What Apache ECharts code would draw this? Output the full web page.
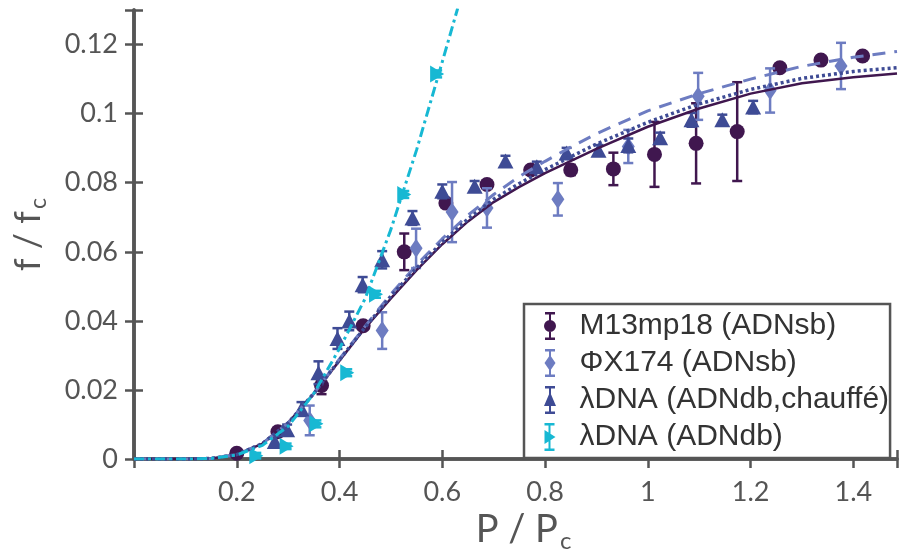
<!DOCTYPE html>
<html><head><meta charset="utf-8">
<script src="https://cdn.jsdelivr.net/npm/echarts@6/dist/echarts.min.js"></script>
<style>html,body{margin:0;padding:0;background:#fff}#c{width:900px;height:558px}</style>
</head><body><div id="c"></div>
<script>
const xTickLabels = ['0.2','0.4','0.6','0.8','1','1.2','1.4'];
const yTickLabels = ['0','0.02','0.04','0.06','0.08','0.1','0.12'];
const legendNames = ['M13mp18 (ADNsb)','\u03A6X174 (ADNsb)','\u03BBDNA (ADNdb,chauff\u00E9)','\u03BBDNA (ADNdb)'];
const colors = ['#40174f','#6d7cc1','#3e4b95','#17b8d3'];

// measured points: [P/Pc, f/fc, error]
const m13Data = [[0.2,0.0017,0.0008],[0.28,0.0079,0.001],[0.365,0.0213,0.0025],[0.446,0.0386,0.001],[0.526,0.060,0.0053],[0.607,0.0741,0.001],[0.687,0.0795,0.001],[0.772,0.0837,0.001],[0.85,0.0837,0.0015],[0.933,0.084,0.0047],[1.013,0.0882,0.0094],[1.094,0.0914,0.0116],[1.174,0.0948,0.0143],[1.257,0.1133,0],[1.337,0.1155,0],[1.418,0.1167,0]];
const phiData = [[0.342,0.0112,0.0043],[0.483,0.0372,0.0053],[0.549,0.061,0.0057],[0.619,0.0715,0.0087],[0.687,0.0727,0.0057],[0.825,0.0752,0.0047],[0.962,0.0905,0.0048],[1.098,0.105,0.0068],[1.238,0.1067,0.0064],[1.376,0.1138,0.0067]];
const lamHData = [[0.274,0.0051,0.0015],[0.298,0.0085,0.0015],[0.326,0.0145,0.002],[0.359,0.025,0.0033],[0.396,0.0349,0.003],[0.419,0.040,0.0027],[0.445,0.0505,0.0022],[0.483,0.0577,0.0025],[0.542,0.0698,0.002],[0.6,0.0775,0.002],[0.663,0.079,0.0015],[0.723,0.0863,0.0015],[0.784,0.0846,0.0015],[0.842,0.0886,0.0015],[0.904,0.0894,0.0015],[0.962,0.0908,0.002],[1.024,0.093,0.0015],[1.085,0.0982,0.002],[1.145,0.0982,0.0015],[1.205,0.1019,0.0018]];
const lamData = [[0.238,0.001,0.0008],[0.297,0.0037,0.0008],[0.355,0.0102,0.001],[0.415,0.025,0.001],[0.471,0.0477,0.001],[0.526,0.0766,0.001],[0.59,0.1115,0.001]];

// fitted curves
const fitM13 = [[0,0],[0.1,0],[0.15,0.0002],[0.2,0.0013],[0.25,0.0045],[0.3,0.0105],[0.35,0.019],[0.4,0.0285],[0.45,0.038],[0.5,0.0465],[0.55,0.0547],[0.6,0.0622],[0.65,0.0688],[0.7,0.0744],[0.75,0.0788],[0.8,0.0828],[0.9,0.0898],[1.0,0.0962],[1.1,0.1015],[1.2,0.1058],[1.3,0.1088],[1.4,0.1105],[1.485,0.1116]];
const fitPhi = [[0,0],[0.1,0],[0.15,0.0002],[0.2,0.0013],[0.25,0.0045],[0.3,0.0105],[0.35,0.019],[0.4,0.029],[0.45,0.0385],[0.5,0.0478],[0.55,0.0562],[0.6,0.0638],[0.65,0.0706],[0.7,0.0766],[0.75,0.0818],[0.8,0.0862],[0.85,0.0903],[0.9,0.0942],[1.0,0.1008],[1.1,0.1058],[1.2,0.11],[1.3,0.1137],[1.4,0.1163],[1.485,0.118]];
const fitLamH = [[0,0],[0.1,0],[0.15,0.0002],[0.2,0.0013],[0.25,0.0045],[0.3,0.0105],[0.35,0.019],[0.4,0.0287],[0.45,0.0382],[0.5,0.0472],[0.55,0.0553],[0.6,0.0628],[0.65,0.0695],[0.7,0.0752],[0.75,0.0798],[0.8,0.0838],[0.9,0.0912],[1.0,0.0975],[1.1,0.1028],[1.2,0.107],[1.3,0.1102],[1.4,0.1122],[1.485,0.1133]];
const fitLam = [[0,0],[0.1,0],[0.15,0.0002],[0.2,0.0012],[0.25,0.004],[0.3,0.0095],[0.35,0.019],[0.4,0.032],[0.45,0.0465],[0.5,0.0665],[0.55,0.0895],[0.6,0.115],[0.63,0.1305]];

const chart = echarts.init(document.getElementById('c'), null, {renderer:'canvas'});
const axisCol = '#555';
const tickFont = 'Lato';

function errRender(params, api) {
  const x = api.value(0), y = api.value(1), e = api.value(2);
  if (!e) return {type:'group', children:[]};
  const top = api.coord([x, y + e]), bot = api.coord([x, y - e]);
  const hw = 5;
  const style = {stroke: api.visual('color'), lineWidth: 2.5};
  return {type:'group', children:[
    {type:'line', shape:{x1:top[0],y1:top[1],x2:bot[0],y2:bot[1]}, style: style},
    {type:'line', shape:{x1:top[0]-hw,y1:top[1],x2:top[0]+hw,y2:top[1]}, style: style},
    {type:'line', shape:{x1:bot[0]-hw,y1:bot[1],x2:bot[0]+hw,y2:bot[1]}, style: style}
  ]};
}

const icons = [
  'path://M6 0H8V28H6ZM2 0H12V2.5H2ZM2 25.5H12V28H2ZM1 14A6 6 0 1 1 13 14A6 6 0 1 1 1 14Z',
  'path://M6 0H8V28H6ZM2 0H12V2.5H2ZM2 25.5H12V28H2ZM7 6L12.5 14L7 22L1.5 14Z',
  'path://M6 0H8V28H6ZM2 0H12V2.5H2ZM2 25.5H12V28H2ZM7 6L13 20L1 20Z',
  'path://M6 0H8V28H6ZM2 0H12V2.5H2ZM2 25.5H12V28H2ZM2 7L13 14L2 21Z'
];
const symbols = ['circle','diamond','triangle','path://M0,0L1,0.5L0,1Z'];
const symbolSizes = [15,[13,19],[16,15],[14,17]];
const datasets = [m13Data, phiData, lamHData, lamData];
const fits = [fitM13, fitPhi, fitLamH, fitLam];
const fitStyles = [
  {type:'solid', width:2.5},
  {type:[13,9], width:3},
  {type:[3,3], width:3.5},
  {type:[10,4,3,4], width:3}
];

const series = [];
datasets.forEach((d, i) => {
  series.push({
    name: legendNames[i] + ' err', type:'custom', renderItem: errRender,
    data: d, encode:{x:0, y:1}, itemStyle:{color: colors[i]}, z: 2 + i*0.1, silent:true
  });
  series.push({
    name: legendNames[i], type:'scatter', data: d.map(p => [p[0], p[1]]),
    symbol: symbols[i], symbolSize: symbolSizes[i],
    itemStyle:{color: colors[i], opacity:1}, z: 2 + i*0.1 + 0.05
  });
});
fits.forEach((f, i) => {
  series.push({
    name: 'fit' + i, type:'line', data: f, showSymbol:false, symbol:'none',
    smooth: false, clip:true,
    lineStyle:{color: colors[i], width: fitStyles[i].width, type: fitStyles[i].type},
    z: 5
  });
});

function xLabel(v) {
  const i = Math.round(v / 0.2);
  if (Math.abs(v - i * 0.2) > 1e-6 || i < 1 || i > xTickLabels.length) return '';
  return xTickLabels[i - 1];
}
function yLabel(v) {
  const i = Math.round(v / 0.02);
  if (Math.abs(v - i * 0.02) > 1e-7 || i < 0 || i >= yTickLabels.length) return '';
  return yTickLabels[i];
}

const axisLine = {show:true, lineStyle:{color: axisCol, width: 3.5}};
const axisTick = {show:true, inside:true, length:9, lineStyle:{color: axisCol, width:2.5}};

chart.setOption({
  animation:false,
  backgroundColor:'#fff',
  grid:{left:134, right:1, top:10, bottom:90, containLabel:false},
  xAxis:[
    {type:'value', min:0, max:1.485, interval:0.2, position:'bottom',
     axisLine: axisLine, axisTick: axisTick, splitLine:{show:false},
     axisLabel:{formatter:xLabel, color:axisCol, fontFamily:tickFont, fontSize:27, margin:20},
     name:'{m|P / P}{s|c}', nameLocation:'middle', nameGap:40,
     nameTextStyle:{padding:[0,0,0,16], rich:{
       m:{fontFamily:tickFont, fontSize:38, color:axisCol},
       s:{fontFamily:tickFont, fontSize:24, color:axisCol, padding:[22,0,0,2]}
     }}},
    {type:'value', min:0, max:1.485, interval:0.2, position:'top',
     axisLine: axisLine, axisTick: axisTick, splitLine:{show:false}, axisLabel:{show:false}}
  ],
  yAxis:[
    {type:'value', min:0, max:0.13, interval:0.02, position:'left',
     axisLine: axisLine, axisTick: axisTick, splitLine:{show:false},
     axisLabel:{formatter:yLabel, color:axisCol, fontFamily:tickFont, fontSize:27, margin:16},
     name:'{m|f / f}{s|c}', nameLocation:'middle', nameRotate:90, nameGap:84,
     nameTextStyle:{rich:{
       m:{fontFamily:tickFont, fontSize:36, color:axisCol},
       s:{fontFamily:tickFont, fontSize:23, color:axisCol, padding:[20,0,0,2]}
     }}},
    {type:'value', min:0, max:0.13, interval:0.02, position:'right',
     axisLine: axisLine, axisTick: axisTick, splitLine:{show:false}, axisLabel:{show:false}}
  ],
  legend:{
    orient:'vertical', left:524, top:304,
    padding:[7,1,6,20], itemGap:7, itemWidth:13, itemHeight:28,
    borderColor:'#555', borderWidth:2.5, backgroundColor:'#fff', z:20,
    textStyle:{fontFamily:'Liberation Sans', fontSize:30, color:'#333', padding:[0,0,0,18]},
    data: legendNames.map((n, i) => ({name:n, icon: icons[i], itemStyle:{color: colors[i]}}))
  },
  series: series
});
</script>
</body></html>
